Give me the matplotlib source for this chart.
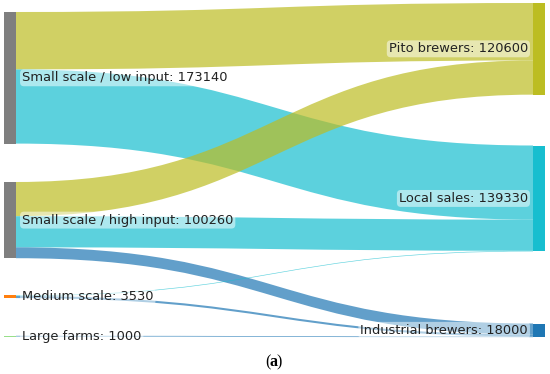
import matplotlib
matplotlib.use("Agg")
from matplotlib import pyplot as plt
from matplotlib.path import Path
from matplotlib.patches import PathPatch, Rectangle
import numpy as np

# nodes
sources = ['Small scale / low input', 'Small scale / high input', 'Medium scale', 'Large farms']
source_values = [173140, 100260, 3530, 1000]
targets = ['Pito brewers', 'Local sales', 'Industrial brewers']
target_values = [120600, 139330, 18000]

# links (source index, target index, value)
link_src = [0, 0, 1, 1, 1, 2, 2, 3]
link_tgt = [0, 1, 0, 1, 2, 1, 2, 2]
link_val = [75600, 97540, 45000, 40990, 14270, 800, 2730, 1000]

source_colors = ['#7f7f7f', '#7f7f7f', '#ff7f0e', '#98df8a']
target_colors = ['#bcbd22', '#17becf', '#1f77b4']

# layout (pixel space)
k = 0.00076
x_left, x_right, node_w = 4, 533, 12
src_top = [12, 182, 295.4, 335.8]
tgt_top = [3, 145.5, 323.5]

plt.rcParams['font.family'] = ['DejaVu Sans']
fig = plt.figure(figsize=(5.5, 3.74), dpi=100)
ax = fig.add_axes([0, 0, 1, 1])
ax.set_xlim(0, 550)
ax.set_ylim(374, 0)
ax.axis('off')

src_off = list(src_top)
tgt_off = list(tgt_top)
x0 = x_left + node_w
x1 = x_right
xm = (x0 + x1) / 2
for s, t, v in zip(link_src, link_tgt, link_val):
    h = v * k
    a0, b0 = src_off[s], tgt_off[t]
    src_off[s] += h
    tgt_off[t] += h
    verts = [(x0, a0), (xm, a0), (xm, b0), (x1, b0),
             (x1, b0 + h), (xm, b0 + h), (xm, a0 + h), (x0, a0 + h), (x0, a0)]
    codes = [Path.MOVETO, Path.CURVE4, Path.CURVE4, Path.CURVE4,
             Path.LINETO, Path.CURVE4, Path.CURVE4, Path.CURVE4, Path.CLOSEPOLY]
    ax.add_patch(PathPatch(Path(verts, codes), facecolor=target_colors[t],
                           edgecolor='none', alpha=0.7))

box = dict(boxstyle='round,pad=0.15,rounding_size=0.3', fc='white', ec='none', alpha=0.5)
for name, v, top, c in zip(sources, source_values, src_top, source_colors):
    h = v * k
    ax.add_patch(Rectangle((x_left, top), node_w, max(h, 1.0), facecolor=c, edgecolor='none'))
    ax.text(x_left + node_w + 6, top + h / 2, f'{name}: {v}', fontsize=9.4,
            va='center', ha='left', color='#222222', bbox=box)

for name, v, top, c in zip(targets, target_values, tgt_top, target_colors):
    h = v * k
    ax.add_patch(Rectangle((x_right, top), node_w, h, facecolor=c, edgecolor='none'))
    ax.text(x_right - 5, top + h / 2, f'{name}: {v}', fontsize=9.4,
            va='center', ha='right', color='#222222', bbox=box)

ax.text(265, 362, '(', fontsize=11.5, family='Liberation Serif', ha='left', va='center')
ax.text(269.5, 362, 'a', fontsize=11.5, family='Liberation Serif', fontweight='bold', ha='left', va='center')
ax.text(276.5, 362, ')', fontsize=11.5, family='Liberation Serif', ha='left', va='center')

fig.savefig('out.png', dpi=100)
